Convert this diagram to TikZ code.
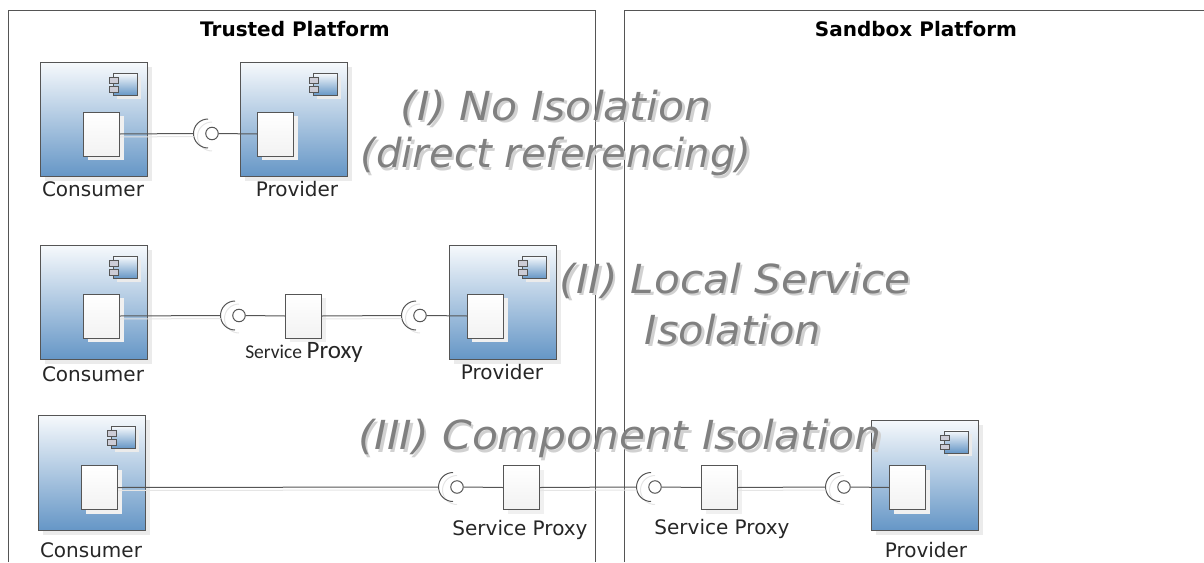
\documentclass[tikz,border=0pt]{standalone}
\usepackage{fontspec}
\setmainfont{DejaVu Sans}
\newfontfamily\calibrifont{Carlito}
\usetikzlibrary{shadows,calc}

\definecolor{linegray}{HTML}{555555}
\definecolor{bluetop}{HTML}{F6F9FC}
\definecolor{bluebot}{HTML}{6596C6}

\tikzset{
    frameline/.style={draw=linegray,line width=0.8pt},
    wire/.style={draw=linegray,line width=1pt},
    wireshadow/.style={draw=black!10,line width=1pt},
    comp/.style={draw=linegray,line width=1pt,anchor=north west,inner sep=0pt,minimum width=107pt,
        top color=bluetop,bottom color=bluebot,general shadow={fill=black!8,shadow xshift=4.5pt,shadow yshift=-4.5pt}},
    inner/.style={draw=linegray,line width=1pt,anchor=north west,inner sep=0pt,minimum width=36pt,minimum height=44pt,
        top color=white,bottom color=black!5,general shadow={fill=black!6,shadow xshift=4pt,shadow yshift=-4pt}},
    icon/.style={draw=linegray,line width=0.7pt,anchor=north west,inner sep=0pt,minimum width=24pt,minimum height=22pt,
        top color=bluetop,bottom color=bluebot,general shadow={fill=black!8,shadow xshift=3.5pt,shadow yshift=-3.5pt}},
    port/.style={draw=linegray,line width=0.7pt,anchor=north west,inner sep=0pt,minimum width=9pt,minimum height=5.5pt,fill=blue!20!black!20},
    ball/.style={circle,draw=linegray,line width=1pt,fill=white,inner sep=0pt,minimum size=12.5pt},
    lbl/.style={font=\fontsize{20}{24}\selectfont,text=black!85},
    title/.style={font=\fontsize{20}{24}\bfseries\selectfont},
    bigtext/.style={font=\fontsize{40}{48}\itshape\selectfont,text=black!50},
    bigshadow/.style={font=\fontsize{40}{48}\itshape\selectfont,text=black!18},
}

% name, left, top, height, left offset of the inner box, top offset of the inner box
\newcommand{\compbox}[6]{
    \node[comp,minimum height=#4pt] (#1) at (#2,#3) {};
    \node[inner] (#1i) at ($(#2,#3)+(#5,#6)$) {};
    \node[icon] (#1c) at ($(#2,#3)+(73,11)$) {};
    \node[port] (#1p) at ($(#2,#3)+(69,15)$) {};
    \node[port] (#1q) at ($(#2,#3)+(69,24)$) {};
}
% name, centre of the ball
\newcommand{\socket}[3]{
    \draw[wireshadow] ($(#2,#3)+(0,17.5)$) arc (90:270:14.5);
    \draw[linegray,line width=1pt] ($(#2,#3)+(-4,14.5)$) arc (90:270:14.5);
    \node[ball] (#1) at (#2,#3) {};
    \coordinate (#1a) at ($(#2,#3)+(-18.5,0)$);
}
% name, centre, text, width factor
\newcommand{\bigtxt}[5]{
    \node[bigshadow] (#1s) at ($(#2,#3)+(2.5,2.5)$) {\scalebox{#5}[1]{#4}};
    \node[bigtext] (#1) at (#2,#3) {\scalebox{#5}[1]{#4}};
}

\begin{document}
\begin{tikzpicture}[x=1pt,y=-1pt]
    \useasboundingbox (0,0) rectangle (1204,562);

    % platforms
    \draw[frameline] (8,562) -- (8,10) -- (595,10) -- (595,562);
    \draw[frameline] (624,562) -- (624,10) -- (1204,10);
    \node[title] (trusted) at (295,29) {Trusted Platform};
    \node[title] (sandbox) at (916,29) {Sandbox Platform};

    % first row
    \compbox{consa}{40}{62}{114}{43}{49.5}
    \compbox{prova}{240}{62}{114}{17}{49.5}
    \socket{sa}{212}{133.5}
    \draw[wireshadow] ($(consai.east)+(0,3)$) -- ($(saa)+(0,3)$);
    \draw[wire] (consai.east) -- (saa);
    \draw[wire] (sa.east) -- (provai.west);
    \node[lbl] (consalbl) at (93,189) {Consumer};
    \node[lbl] (provalbl) at (297,189) {Provider};

    % second row
    \compbox{consb}{40}{245}{114}{43}{48.5}
    \compbox{provb}{449}{245}{114}{18}{48.5}
    \node[inner] (proxyb) at (285,293.5) {};
    \socket{sb}{239}{315.5}
    \socket{sc}{420}{315.5}
    \draw[wireshadow] ($(consbi.east)+(0,3)$) -- ($(sba)+(0,3)$);
    \draw[wire] (consbi.east) -- (sba);
    \draw[wire] (sb.east) -- (proxyb.west);
    \draw[wireshadow] ($(proxyb.east)+(0,3)$) -- ($(sca)+(0,3)$);
    \draw[wire] (proxyb.east) -- (sca);
    \draw[wire] (sc.east) -- (provbi.west);
    \node[lbl] (consblbl) at (93,374) {Consumer};
    \node[lbl] (proxyblbl) at (304,352) {\calibrifont{\fontsize{19.5}{20}\selectfont Service} \calibrifont{\fontsize{25}{25}\selectfont Proxy}};
    \node[lbl] (provblbl) at (502,372) {Provider};

    % third row
    \compbox{consc}{38}{415}{115}{43}{50}
    \compbox{provc}{871}{419.5}{110.5}{18}{45.5}
    \node[inner] (proxyc) at (503,465) {};
    \node[inner] (proxyd) at (701,465) {};
    \socket{sd}{457}{487}
    \socket{se}{655}{487}
    \socket{sf}{844}{487}
    \draw[wireshadow] ($(consci.east)+(0,3)$) -- ($(sda)+(0,3)$);
    \draw[wire] (consci.east) -- (sda);
    \draw[wire] (sd.east) -- (proxyc.west);
    \draw[wireshadow] ($(proxyc.east)+(0,3)$) -- ($(sea)+(0,3)$);
    \draw[wire] (proxyc.east) -- (sea);
    \draw[wire] (se.east) -- (proxyd.west);
    \draw[wireshadow] ($(proxyd.east)+(0,3)$) -- ($(sfa)+(0,3)$);
    \draw[wire] (proxyd.east) -- (sfa);
    \draw[wire] (sf.east) -- (provci.west);
    \node[lbl] (consclbl) at (91,550) {Consumer};
    \node[lbl] (proxyclbl) at (520,530) {Service Proxy};
    \node[lbl] (proxydlbl) at (722,529) {Service Proxy};
    \node[lbl] (provclbl) at (926,550) {Provider};

    % isolation captions
    \bigtxt{noisoa}{556}{107.5}{(I) No Isolation}{1.065}
    \bigtxt{noisob}{556}{156.5}{(direct referencing)}{1.005}
    \bigtxt{localisoa}{735}{280.5}{(II) Local Service}{1.055}
    \bigtxt{localisob}{733}{329.5}{Isolation}{1.04}
    \bigtxt{compiso}{620}{438.5}{(III) Component Isolation}{1.06}
\end{tikzpicture}
\end{document}
